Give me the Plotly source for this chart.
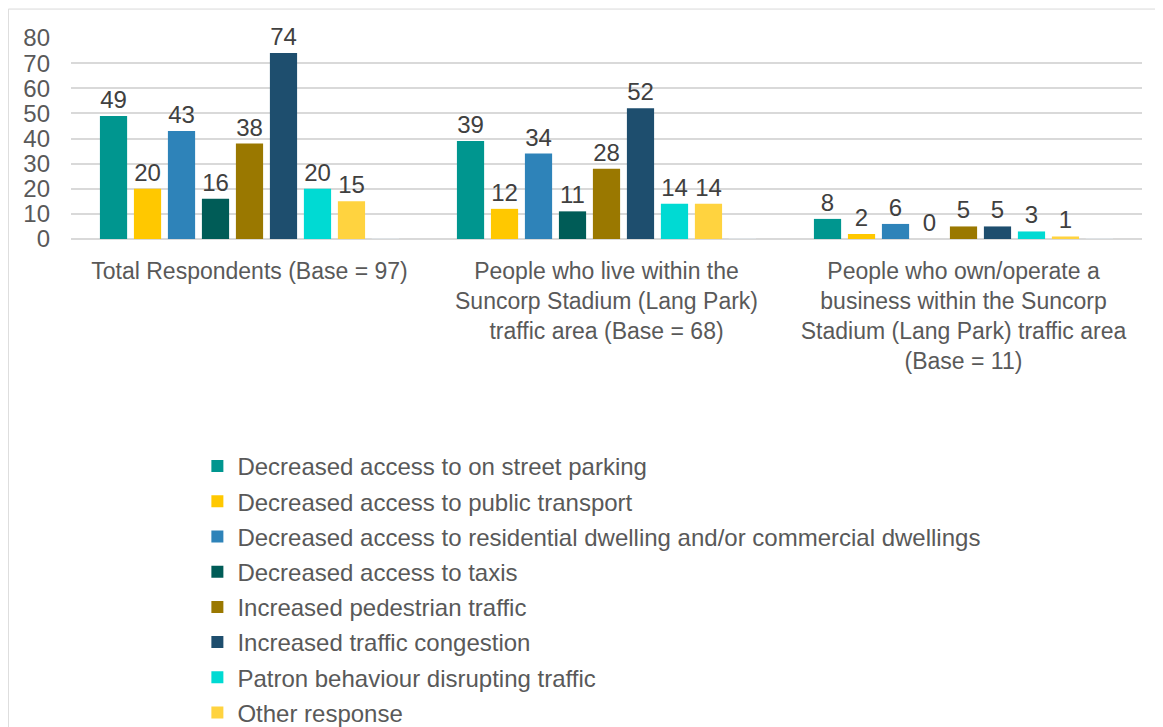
import plotly.graph_objects as go

# Categories (x-axis groups)
groups = [
    "Total Respondents (Base = 97)",
    "People who live within the<br>Suncorp Stadium (Lang Park)<br>traffic area (Base = 68)",
    "People who own/operate a<br>business within the Suncorp<br>Stadium (Lang Park) traffic area<br>(Base = 11)",
]

# Series values
street_parking = [49, 39, 8]
public_transport = [20, 12, 2]
residential_access = [43, 34, 6]
taxis = [16, 11, 0]
pedestrian_traffic = [38, 28, 5]
traffic_congestion = [74, 52, 5]
patron_behaviour = [20, 14, 3]
other_response = [15, 14, 1]

series = [
    ("Decreased access to on street parking", street_parking, "#00968F"),
    ("Decreased access to public transport", public_transport, "#FFC800"),
    ("Decreased access to residential dwelling and/or commercial dwellings", residential_access, "#2E83B9"),
    ("Decreased access to taxis", taxis, "#005C57"),
    ("Increased pedestrian traffic", pedestrian_traffic, "#9A7800"),
    ("Increased traffic congestion", traffic_congestion, "#1E4E6E"),
    ("Patron behaviour disrupting traffic", patron_behaviour, "#00DAD3"),
    ("Other response", other_response, "#FFD33F"),
]

FONT = "Arial, Liberation Sans, sans-serif"

fig = go.Figure()
for i, (name, vals, color) in enumerate(series):
    fig.add_trace(go.Bar(
        x=groups, y=vals, name=name,
        marker=dict(color=color, line=dict(width=0)),
        text=vals, textposition="outside", cliponaxis=False,
        textfont=dict(size=24, color="#404040", family=FONT),
        legendgroup=str(i),
    ))

# empty slot that the original chart keeps at the end of each group
fig.add_trace(go.Bar(x=groups, y=[0, 0, 0], showlegend=False, hoverinfo="skip",
                     marker=dict(color="rgba(0,0,0,0)")))

fig.update_layout(
    width=1163, height=727,
    barmode="group", bargap=0.143, bargroupgap=0.2,
    plot_bgcolor="white", paper_bgcolor="white",
    margin=dict(l=63, r=29, t=30, b=496, autoexpand=False),
    font=dict(family=FONT, size=24, color="#595959"),
    showlegend=True,
    legend=dict(
        orientation="v", x=0.118, xanchor="left",
        yref="container", y=1 - 436 / 727, yanchor="top",
        font=dict(size=24, color="#595959", family=FONT),
        tracegroupgap=1, bgcolor="rgba(0,0,0,0)",
    ),
    shapes=[dict(type="rect", xref="paper", yref="paper",
                 x0=-0.0585, x1=1.0187, y0=-2.6, y1=1.144,
                 line=dict(color="#D9D9D9", width=1), layer="below")],
)

fig.update_xaxes(showgrid=False, showline=False, ticks="", tickfont=dict(size=23),
                 ticklabelstandoff=16)
fig.update_yaxes(range=[0, 80], dtick=10, showgrid=True, gridcolor="#D9D9D9", gridwidth=1.5,
                 zeroline=True, zerolinecolor="#D9D9D9", zerolinewidth=1.5,
                 ticks="", ticklabelstandoff=20, tickfont=dict(size=24))

fig.write_html("out.html")
